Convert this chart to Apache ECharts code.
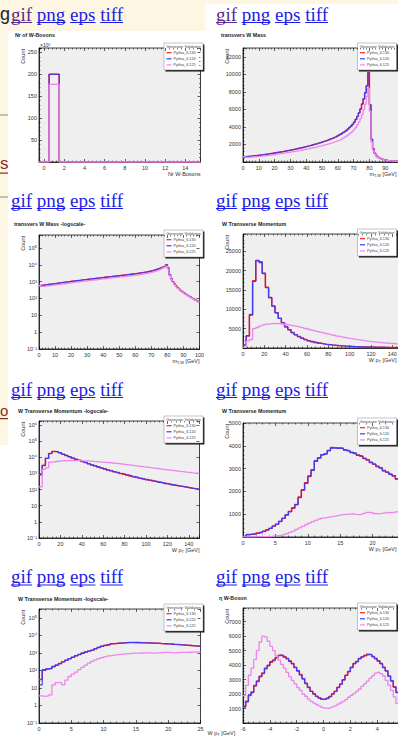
<!DOCTYPE html>
<html><head><meta charset="utf-8">
<script src="https://cdn.jsdelivr.net/npm/echarts@6/dist/echarts.min.js"></script>
<style>html,body{margin:0;padding:0;background:#fff;}#c{width:398px;height:737px;}</style>
</head><body><div id="c"></div>
<script>
// ===================== DATA =====================
const seriesNames = ['Pythia_6.130', 'Pythia_6.120', 'Pythia_6.125'];
const legendTitle = 'Generator Validation';
const linkWords = ['gif', 'png', 'eps', 'tiff'];
const plotTitles = ['Nr of W-Bosons', 'transvers W Mass', 'transvers W Mass -logscale-', 'W Transverse Momentum',
  'W Transverse Momentum -logscale-', 'W Transverse Momentum', 'W Transverse Momentum -logscale-', 'η W-Boson'];
const xTitles = ['Nr W-Bosons', 'm{s|T,W} [GeV]', 'm{s|T,W} [GeV]', 'W p{s|T} [GeV]', 'W p{s|T} [GeV]', 'W p{s|T} [GeV]', 'W p{s|T} [GeV]', ''];
const yTitle = 'Count';

// number of W bosons (bin lower edge, width)
const nBinStart = -0.5, nBinWidth = 1;
const nRed  = [0,200000,0,0,0,0,0,0,0,0,0,0,0,0,0,0];
const nBlue = [0,200000,0,0,0,0,0,0,0,0,0,0,0,0,0,0];
const nPink = [0,177000,0,0,0,0,0,0,0,0,0,0,0,0,0,0];

// transverse W mass, 1 GeV bins from 0
const mtBinStart = 0, mtBinWidth = 1;
const mtRed = [560,600,620,640,660,680,700,720,740,760,
  790,810,840,860,890,910,940,970,1000,1030,
  1060,1090,1120,1150,1180,1210,1250,1280,1320,1350,
  1390,1420,1460,1500,1540,1580,1620,1660,1710,1750,
  1800,1840,1890,1940,1990,2040,2090,2150,2200,2260,
  2320,2380,2440,2500,2570,2640,2710,2790,2870,2950,
  3040,3140,3240,3350,3470,3600,3750,3920,4100,4300,
  4550,4850,5200,5600,6050,6600,7200,7900,8700,10200,
  6500,2600,1500,1000,720,550,430,350,290,245,
  210,180,155,135,120,105,92,82,73,65];
const mtBlue = [550,610,615,650,655,690,695,725,735,770,
  785,820,835,865,885,920,935,975,995,1040,
  1055,1095,1115,1160,1175,1220,1240,1290,1310,1360,
  1380,1430,1450,1510,1530,1590,1610,1670,1700,1760,
  1790,1850,1880,1950,1980,2050,2080,2160,2190,2270,
  2310,2390,2430,2510,2560,2650,2700,2800,2860,2960,
  3030,3150,3230,3360,3460,3610,3740,3930,4090,4310,
  4540,4860,5190,5610,6040,6610,7190,7910,8690,10150,
  6550,2580,1510,990,725,545,435,345,292,243,
  212,178,157,133,121,104,93,81,74,64];
const mtPink = [600,520,530,540,555,570,585,600,615,630,
  650,670,690,710,730,750,775,800,825,850,
  875,900,925,950,975,1000,1030,1060,1090,1120,
  1150,1180,1210,1240,1270,1300,1340,1370,1410,1450,
  1490,1520,1560,1600,1640,1680,1720,1770,1810,1860,
  1900,1950,2000,2050,2100,2160,2220,2280,2340,2410,
  2480,2560,2640,2730,2830,2940,3060,3200,3350,3520,
  3720,3950,4230,4550,4950,5400,5950,6600,7500,8400,
  5800,2300,1350,900,660,500,400,330,275,235,
  200,172,150,130,115,100,90,80,72,64];

// W transverse momentum, 3 GeV bins from 0
const ptBinStart = 0, ptBinWidth = 3;
const ptRed = [870,3100,8700,17400,22600,22300,19300,15700,13000,10900,
  9100,7700,6500,5500,4700,4000,3400,2950,2550,2200,
  1900,1650,1450,1280,1130,1000,890,790,705,630,
  565,510,460,415,375,340,310,282,258,236,
  216,198,182,168,155,143,132,122,113,105];
const ptBlue = [820,3200,8500,17200,22700,22100,19400,15600,13100,10800,
  9150,7650,6550,5450,4750,3950,3420,2930,2560,2190,
  1910,1640,1460,1270,1140,990,895,785,710,625,
  570,505,462,412,378,338,312,280,260,234,
  218,196,183,166,156,142,133,121,114,104];
const ptPink = [150,1800,2200,5000,5300,5700,6000,6200,6300,6350,
  6300,6250,6150,6050,5900,5750,5600,5450,5250,5050,
  4850,4650,4450,4250,4050,3850,3650,3450,3250,3050,
  2880,2720,2560,2420,2280,2150,2030,1910,1800,1700,
  1610,1520,1440,1360,1290,1220,1160,1100,1050,1000];

// W transverse momentum (low range), 0.5 GeV bins from 0
const ptLowBinStart = 0, ptLowBinWidth = 0.5;
const ptLowRed = [30,110,120,130,170,200,250,310,380,470,
  560,680,820,960,1120,1260,1430,1750,2050,2380,
  2650,2950,3320,3480,3600,3650,3780,3920,3900,3910,
  3880,3830,3780,3720,3660,3600,3540,3450,3380,3280,
  3190,3100,3030,2920,2840,2760,2680,2560,2480,2400];
const ptLowBlue = [15,100,125,135,165,205,245,315,375,480,
  555,690,810,970,1110,1280,1420,1720,2080,2350,
  2680,2920,3350,3460,3620,3640,3800,3890,3920,3880,
  3900,3810,3790,3700,3680,3580,3550,3430,3390,3260,
  3200,3080,3040,2900,2850,2740,2690,2540,2490,2380];
const ptLowPink = [3.5,3.3,3.5,4,15,20,20,15,28,45,
  62,80,110,150,200,260,330,400,470,540,
  610,670,730,780,830,850,880,900,930,960,
  980,990,1000,1010,990,980,1000,1040,1080,1070,
  1030,1010,1040,1060,1080,1070,1090,1110,1120,1130];

// W pseudorapidity, 0.2 bins from -6
const etaBinStart = -6, etaBinWidth = 0.2;
const etaRed = [1100,1500,1900,2150,2550,2900,3200,3450,3750,4000,
  4200,4350,4500,4680,4650,4600,4450,4300,4100,3850,
  3600,3350,3050,2750,2450,2200,2000,1850,1720,1650,
  1640,1700,1830,2000,2200,2450,2700,2980,3300,3550,
  3850,4100,4250,4450,4580,4650,4750,4720,4600,4450,
  4300,4100,3850,3600,3250,2900,2500,2100,1650,1200];
const etaBlue = [1150,1450,1950,2100,2600,2850,3250,3400,3800,3950,
  4250,4300,4550,4650,4700,4550,4480,4250,4120,3820,
  3620,3320,3080,2720,2480,2180,2020,1830,1740,1630,
  1620,1720,1810,2020,2180,2470,2680,3000,3280,3570,
  3830,4120,4230,4470,4560,4680,4720,4750,4580,4470,
  4280,4120,3830,3620,3230,2920,2480,2120,1630,1220];
const etaPink = [1900,2600,3300,3800,4400,5000,5600,6000,5950,5650,
  5300,5000,4650,4350,4050,3800,3500,3200,2950,2700,
  2450,2250,2000,1850,1650,1500,1380,1280,1180,1080,
  1030,1020,1060,1120,1200,1300,1400,1500,1620,1780,
  1920,2050,2200,2350,2550,2720,2900,3100,3280,3450,
  3500,3420,3250,2950,2600,2250,1800,1350,1000,700];

// ===================== LAYOUT / STYLE =====================
const dataSets = [
  {start: nBinStart, width: nBinWidth, vals: [nRed, nBlue, nPink]},
  {start: mtBinStart, width: mtBinWidth, vals: [mtRed, mtBlue, mtPink]},
  {start: mtBinStart, width: mtBinWidth, vals: [mtRed, mtBlue, mtPink]},
  {start: ptBinStart, width: ptBinWidth, vals: [ptRed, ptBlue, ptPink]},
  {start: ptBinStart, width: ptBinWidth, vals: [ptRed, ptBlue, ptPink]},
  {start: ptLowBinStart, width: ptLowBinWidth, vals: [ptLowRed, ptLowBlue, ptLowPink]},
  {start: ptLowBinStart, width: ptLowBinWidth, vals: [ptLowRed, ptLowBlue, ptLowPink]},
  {start: etaBinStart, width: etaBinWidth, vals: [etaRed, etaBlue, etaPink]}
];
const frames = [
  {left: 39, top: 48, width: 161.5, height: 114},
  {left: 243, top: 48, width: 158, height: 114},
  {left: 39, top: 235, width: 160.5, height: 114},
  {left: 243, top: 234, width: 160, height: 114},
  {left: 39, top: 421, width: 160.5, height: 117},
  {left: 243, top: 423, width: 162, height: 114},
  {left: 39, top: 609, width: 161.5, height: 114},
  {left: 243, top: 608, width: 161, height: 115}
];
const axisCfg = [
  {x: {min: -0.5, max: 15.5, splitNumber: 8, hideMin: true, hideMax: true}, y: {min: 0, max: 260000, interval: 50000, kilo: true}},
  {x: {min: 0, max: 100, interval: 10, hideMax: true}, y: {min: 0, max: 13000, interval: 2000}},
  {x: {min: 0, max: 100, interval: 10}, y: {log: true, min: 0.1, max: 590000}},
  {x: {min: 0, max: 150, interval: 20, hideMax: true}, y: {min: 0, max: 29500, interval: 5000}},
  {x: {min: 0, max: 150, interval: 20, hideMax: true}, y: {log: true, min: 0.1, max: 1780000}},
  {x: {min: 0, max: 25, interval: 5, hideMax: true}, y: {min: 0, max: 5000, interval: 1000}},
  {x: {min: 0, max: 25, interval: 5}, y: {log: true, min: 0.1, max: 320000}},
  {x: {min: -6, max: 6, interval: 2, hideMax: true}, y: {min: 0, max: 7950, interval: 1000}}
];
const titlePos = [[15,35],[221,35],[14,224],[222,224],[18,411],[222,411],[18,599],[219,598]];
const nameShift = [0, -4.5, 0, -6.5, 0, -8.5, 0, 0];
const namePad = [9, 9, 9, 9, 9, 9, 7, 9];
const rowMid = [14, 200.3, 389.3, 576.6];
const rowUnder = [22, 208, 397, 584.5];
const colStart = [11, 216];
const legendX = [164, 357.5];
const colors = ['#ff1c1c', '#3a3aff', '#ee84ee'];
const widths = [1.5, 1.1, 1.3];
const LINK_BLUE = '#1c1ce6', LINK_PURPLE = '#5a2a8c';
const FONT = '"Liberation Sans", Arial, sans-serif';

const sup = {'-':'⁻','0':'⁰','1':'¹','2':'²','3':'³','4':'⁴','5':'⁵','6':'⁶','7':'⁷','8':'⁸','9':'⁹'};
function logLabel(v) {
  const e = Math.log10(v), r = Math.round(e);
  if (Math.abs(e - r) > 1e-6) return '';
  if (r === 0) return '1';
  if (r === 1) return '10';
  return '10' + String(r).split('').map(c => sup[c]).join('');
}
function histPoints(start, width, vals) {
  const pts = vals.map((v, i) => [start + i * width, v]);
  pts.push([start + vals.length * width, vals[vals.length - 1]]);
  return pts;
}

const grids = [], xAxes = [], yAxes = [], series = [], graphics = [];
const tickStyle = {color: '#000', width: 0.6};
const minorStyle = {color: '#000', width: 0.5};
const labelBase = {fontSize: 5.5, color: '#333', fontFamily: FONT};

frames.forEach((f, i) => {
  grids.push({left: f.left, top: f.top, width: f.width, height: f.height, show: true,
    backgroundColor: '#efefef', borderColor: '#111', borderWidth: 0.8, containLabel: false, outerBoundsMode: 'none'});
  const xc = axisCfg[i].x, yc = axisCfg[i].y;
  const xBase = {gridIndex: i, type: 'value', min: xc.min, max: xc.max, splitLine: {show: false}};
  if (xc.interval) xBase.interval = xc.interval; else xBase.splitNumber = xc.splitNumber;
  xAxes.push(Object.assign({}, xBase, {
    position: 'bottom',
    axisLine: {show: true, onZero: false, lineStyle: {color: '#111', width: 0.8}},
    axisTick: {show: true, inside: true, length: 3, lineStyle: tickStyle},
    minorTick: {show: true, splitNumber: 5, length: 1.5, lineStyle: minorStyle},
    axisLabel: Object.assign({margin: 2.5, showMinLabel: xc.hideMin ? false : null, showMaxLabel: xc.hideMax ? false : null}, labelBase),
    name: xTitles[i], nameLocation: 'end', nameGap: nameShift[i],
    nameTextStyle: {fontSize: 5.5, color: '#333', fontFamily: FONT, align: 'right', verticalAlign: 'top', padding: [namePad[i], 0, 0, 0],
      rich: {s: {fontSize: 4, color: '#333', fontFamily: FONT, padding: [2, 0, 0, 0]}}}
  }));
  xAxes.push(Object.assign({}, xBase, {
    position: 'top', axisLine: {show: false, onZero: false}, axisLabel: {show: false},
    axisTick: {show: true, inside: true, length: 3, lineStyle: tickStyle},
    minorTick: {show: true, splitNumber: 5, length: 1.5, lineStyle: minorStyle}
  }));
  let yBase;
  if (yc.log) {
    yBase = {gridIndex: i, type: 'log', logBase: 10, min: yc.min, max: yc.max, splitLine: {show: false}};
  } else {
    yBase = {gridIndex: i, type: 'value', min: yc.min, max: yc.max, interval: yc.interval, splitLine: {show: false}};
  }
  const fmt = yc.log ? logLabel : (yc.kilo ? (v => String(v / 1000)) : (v => String(v)));
  yAxes.push(Object.assign({}, yBase, {
    position: 'left',
    axisLine: {show: true, onZero: false, lineStyle: {color: '#111', width: 0.8}},
    axisTick: {show: true, inside: true, length: 3, lineStyle: tickStyle},
    minorTick: {show: !yc.log, splitNumber: 5, length: 1.5, lineStyle: minorStyle},
    axisLabel: Object.assign({margin: 2, formatter: fmt, showMinLabel: yc.log ? null : false,
      showMaxLabel: (yc.log || yc.max % yc.interval === 0) ? null : false}, labelBase)
  }));
  yAxes.push(Object.assign({}, yBase, {
    position: 'right', axisLine: {show: false, onZero: false}, axisLabel: {show: false},
    axisTick: {show: true, inside: true, length: 3, lineStyle: tickStyle},
    minorTick: {show: !yc.log, splitNumber: 5, length: 1.5, lineStyle: minorStyle}
  }));
  const ds = dataSets[i];
  ds.vals.forEach((vals, k) => {
    series.push({type: 'line', name: seriesNames[k], xAxisIndex: 2 * i, yAxisIndex: 2 * i,
      data: histPoints(ds.start, ds.width, vals), step: 'end', symbol: 'none', showSymbol: false,
      lineStyle: {color: colors[k], width: widths[k]}, itemStyle: {color: colors[k]},
      silent: true, clip: true, animation: false, z: 3 + k});
  });

  // title
  graphics.push({type: 'text', x: titlePos[i][0], y: titlePos[i][1], z: 50,
    style: {text: plotTitles[i], font: 'bold 5.3px ' + FONT, fill: '#222', align: 'left', verticalAlign: 'middle', textAlign: 'left', textVerticalAlign: 'middle'}});
  // y title
  graphics.push({type: 'text', x: f.left - 16.5, y: f.top + 1, rotation: Math.PI / 2, z: 50,
    style: {text: yTitle, font: '5.5px ' + FONT, fill: '#333', align: 'right', verticalAlign: 'middle', textAlign: 'right', textVerticalAlign: 'middle'}});
  // legend box
  const lx = legendX[i % 2], ly = f.top - 5;
  const kids = [
    {type: 'rect', shape: {x: 1.4, y: 1.4, width: 39, height: 27}, style: {fill: '#111'}},
    {type: 'rect', shape: {x: 0, y: 0, width: 39, height: 27}, style: {fill: '#fff', stroke: '#888', lineWidth: 0.5}},
    {type: 'text', x: 19.5, y: 3.7, style: {text: legendTitle, font: '3.8px ' + FONT, fill: '#444', align: 'center', verticalAlign: 'middle', textAlign: 'center', textVerticalAlign: 'middle'}}
  ];
  seriesNames.forEach((nm, k) => {
    const yy = 9.7 + k * 6.1;
    kids.push({type: 'line', shape: {x1: 2.5, y1: yy, x2: 7.5, y2: yy}, style: {stroke: colors[k], lineWidth: 1.2}});
    kids.push({type: 'text', x: 9.5, y: yy, style: {text: nm, font: '3.8px ' + FONT, fill: '#444', align: 'left', verticalAlign: 'middle', textAlign: 'left', textVerticalAlign: 'middle'}});
  });
  graphics.push({type: 'group', x: lx, y: ly, z: 100, children: kids});
});

// x10^3 multiplier on first plot
graphics.push({type: 'text', x: 40, y: 44.5, z: 50,
  style: {text: '×10³', font: '5px ' + FONT, fill: '#333', align: 'left', verticalAlign: 'middle', textAlign: 'left', textVerticalAlign: 'middle'}});

// page background pieces
graphics.push({type: 'rect', z: -100, shape: {x: 0, y: 0, width: 398, height: 4}, style: {fill: '#fcf6e2'}});
graphics.push({type: 'rect', z: -100, shape: {x: 0, y: 0, width: 205, height: 31}, style: {fill: '#fcf6e2'}});
graphics.push({type: 'rect', z: -100, shape: {x: 0, y: 0, width: 8, height: 445}, style: {fill: '#fcf6e2'}});
graphics.push({type: 'rect', z: -90, shape: {x: 0, y: 114.5, width: 8, height: 1}, style: {fill: '#8a8a8a'}});
graphics.push({type: 'rect', z: -90, shape: {x: 0, y: 196.5, width: 8, height: 1}, style: {fill: '#8a8a8a'}});
graphics.push({type: 'text', x: 0, y: 14, z: 10, style: {text: 'g', font: '18px ' + FONT, fill: '#222', align: 'left', verticalAlign: 'middle', textAlign: 'left', textVerticalAlign: 'middle'}});
graphics.push({type: 'text', x: 0, y: 163, z: 10, style: {text: 's', font: '17px ' + FONT, fill: '#8e2a1c', align: 'left', verticalAlign: 'middle', textAlign: 'left', textVerticalAlign: 'middle'}});
graphics.push({type: 'rect', z: 10, shape: {x: 0, y: 172.5, width: 8, height: 1.2}, style: {fill: '#8e2a1c'}});
graphics.push({type: 'text', x: 0, y: 410, z: 10, style: {text: 'o', font: '15px ' + FONT, fill: '#8e2a1c', align: 'left', verticalAlign: 'middle', textAlign: 'left', textVerticalAlign: 'middle'}});
graphics.push({type: 'rect', z: 10, shape: {x: 0, y: 418, width: 8, height: 1.2}, style: {fill: '#8e2a1c'}});

// link words
const mctx = document.createElement('canvas').getContext('2d');
const LINK_FONT = '19px "Liberation Serif", "Times New Roman", serif';
mctx.font = LINK_FONT;
const spaceW = mctx.measureText(' ').width;
for (let r = 0; r < 4; r++) {
  for (let c = 0; c < 2; c++) {
    let x = colStart[c];
    linkWords.forEach((w, wi) => {
      const col = (r === 0 && wi === 0) ? LINK_PURPLE : LINK_BLUE;
      const ww = mctx.measureText(w).width;
      graphics.push({type: 'text', x: x, y: rowMid[r], z: 20,
        style: {text: w, font: LINK_FONT, fill: col, align: 'left', verticalAlign: 'middle', textAlign: 'left', textVerticalAlign: 'middle'}});
      graphics.push({type: 'rect', z: 20, shape: {x: x, y: rowUnder[r], width: ww, height: 1}, style: {fill: col}});
      x += ww + spaceW;
    });
  }
}

const chart = echarts.init(document.getElementById('c'), null, {renderer: 'svg', width: 398, height: 737});
chart.setOption({
  animation: false,
  backgroundColor: '#ffffff',
  textStyle: {fontFamily: FONT},
  grid: grids, xAxis: xAxes, yAxis: yAxes, series: series,
  graphic: {elements: graphics}
});
</script></body></html>
